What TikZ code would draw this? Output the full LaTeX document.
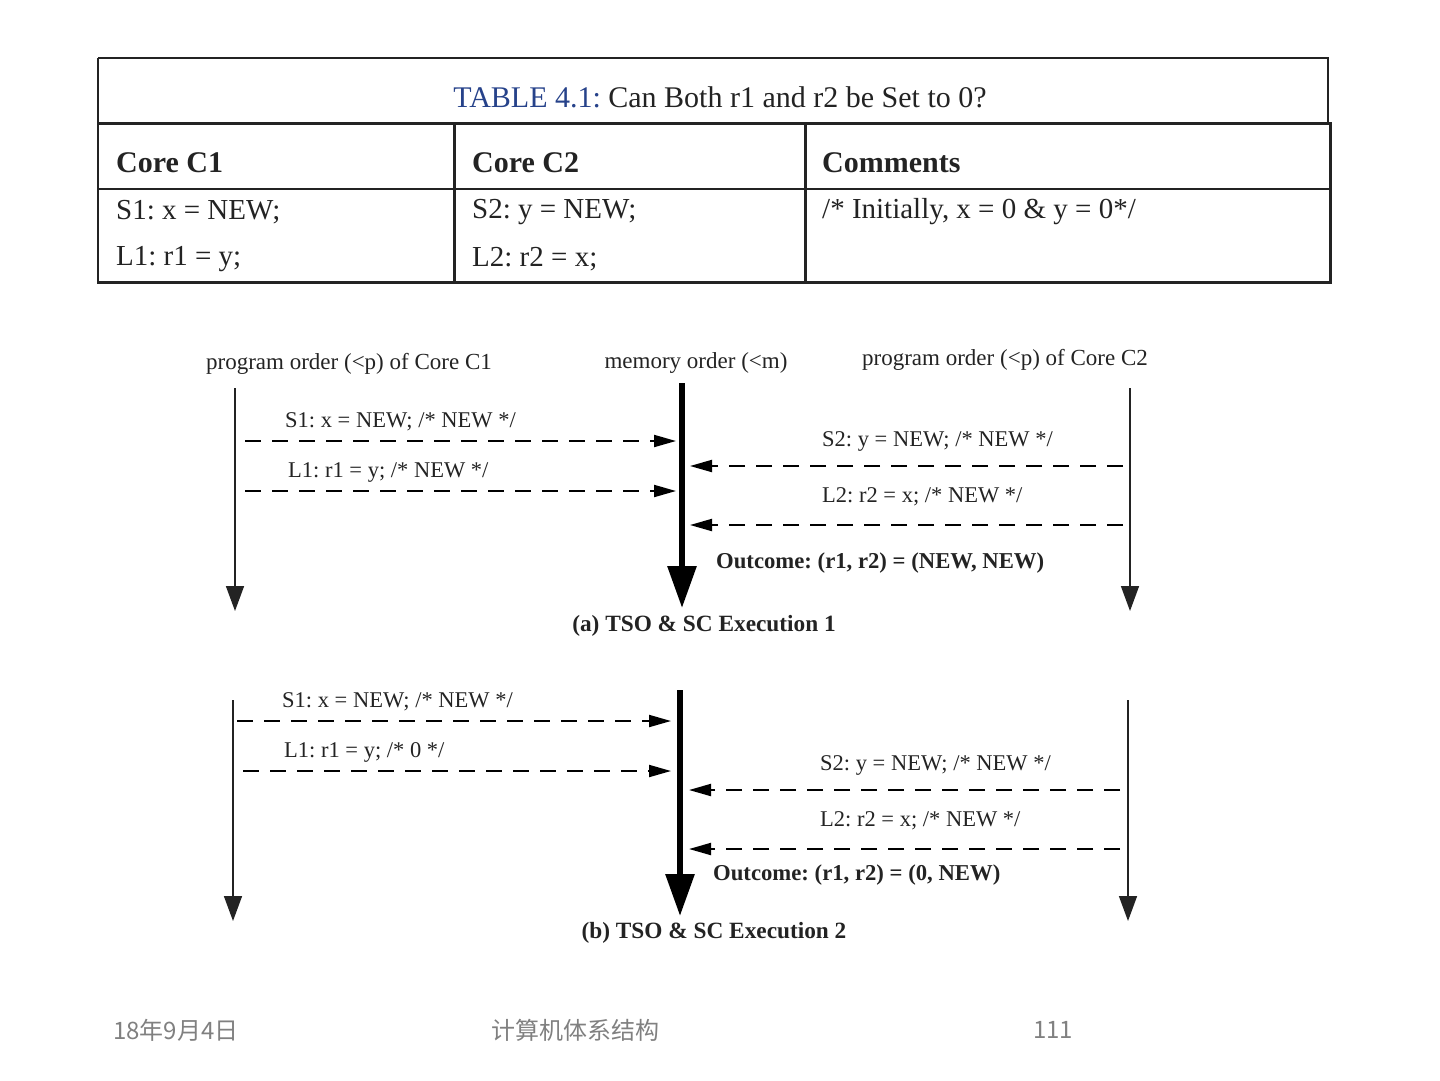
\documentclass[tikz,border=0pt]{standalone}
\usepackage{fontspec}
\setmainfont{Liberation Serif}
\newfontfamily\cjkfont{Noto Sans CJK SC}
\usepackage{xcolor}
\usepackage{tikz}
\usetikzlibrary{arrows.meta}
\definecolor{tabblue}{RGB}{38,66,138}
\definecolor{inkgray}{RGB}{35,35,35}
\definecolor{footgray}{RGB}{128,128,128}
\frenchspacing

\begin{document}
\begin{tikzpicture}[x=1pt,y=-1pt,line join=miter,
  celltext/.style={anchor=west,inner sep=0pt,text=inkgray,font=\fontsize{29}{33}\selectfont},
  headtext/.style={anchor=west,inner sep=0pt,text=inkgray,font=\fontsize{30}{34}\selectfont\bfseries},
  msgtext/.style={anchor=west,inner sep=0pt,text=inkgray,font=\fontsize{22.5}{26}\selectfont},
  outtext/.style={anchor=west,inner sep=0pt,text=inkgray,font=\fontsize{22.7}{26}\selectfont\bfseries},
  captext/.style={inner sep=0pt,text=inkgray,font=\fontsize{23.3}{27}\selectfont\bfseries},
  ordertext/.style={inner sep=0pt,text=inkgray,font=\fontsize{23}{27}\selectfont},
  foottext/.style={inner sep=0pt,text=footgray,font=\cjkfont\fontsize{24}{28}\selectfont},
  coreline/.style={line width=1.6pt,draw=inkgray,-{Triangle[length=25pt,width=18pt]}},
  memline/.style={line width=6pt,draw=black,-{Triangle[length=42pt,width=28pt]}},
  msgline/.style={line width=2pt,draw=black,dash pattern=on 16pt off 11pt,-{Triangle[length=22pt,width=12pt]}}]
  \useasboundingbox (0,0) rectangle (1440,1080);
  % table frame
  \draw[line width=1.5pt,draw=inkgray] (98,58) -- (1328,58) -- (1328,123);
  \draw[line width=2pt,draw=inkgray] (98,58) -- (98,282);
  \draw[line width=3pt,draw=inkgray] (97,123) -- (1330,123) -- (1330,282) -- (97,282);
  \draw[line width=1.5pt,draw=inkgray] (98,189) -- (1330,189);
  \draw[line width=3pt,draw=inkgray] (454,123) -- (454,282);
  \draw[line width=3pt,draw=inkgray] (805,123) -- (805,282);
  \node[inner sep=0pt,font=\fontsize{30}{34}\selectfont] (title) at (720,97)
    {\textcolor{tabblue}{TABLE 4.1:} \textcolor{inkgray}{Can Both r1 and r2 be Set to 0?}};
  \node[headtext] (hc1) at (116,163) {Core C1};
  \node[headtext] (hc2) at (472,163) {Core C2};
  \node[headtext] (hcm) at (822,163) {Comments};
  \node[celltext] (s1cell) at (116,212) {S1: x = NEW;};
  \node[celltext] (l1cell) at (116,259) {L1: r1 = y;};
  \node[celltext] (s2cell) at (472,212) {S2: y = NEW;};
  \node[celltext] (l2cell) at (472,259) {L2: r2 = x;};
  \node[celltext] (init) at (822,212) {/* Initially, x = 0 \& y = 0*/};

  % (a) execution 1
  \node[ordertext] (poa1) at (349,364) {program order (<p) of Core C1};
  \node[ordertext] (moa) at (696,363) {memory order (<m)};
  \node[ordertext] (poa2) at (1005,360) {program order (<p) of Core C2};
  \coordinate (A1top) at (235,388);
  \coordinate (A1bot) at (235,611);
  \coordinate (AMtop) at (682,383);
  \coordinate (AMbot) at (682,608);
  \coordinate (A2top) at (1130,388);
  \coordinate (A2bot) at (1130,611);
  \draw[coreline] (A1top) -- (A1bot);
  \draw[memline] (AMtop) -- (AMbot);
  \draw[coreline] (A2top) -- (A2bot);
  \coordinate (AS1a) at (245,441);
  \coordinate (AS1b) at (676,441);
  \coordinate (AL1a) at (245,491);
  \coordinate (AL1b) at (676,491);
  \coordinate (AS2a) at (1123,466);
  \coordinate (AS2b) at (690,466);
  \coordinate (AL2a) at (1123,525);
  \coordinate (AL2b) at (690,525);
  \draw[msgline] (AS1a) -- (AS1b);
  \draw[msgline] (AL1a) -- (AL1b);
  \draw[msgline] (AS2a) -- (AS2b);
  \draw[msgline] (AL2a) -- (AL2b);
  \node[msgtext] (as1) at (285,422) {S1: x = NEW; /* NEW */};
  \node[msgtext] (al1) at (288,472) {L1: r1 = y; /* NEW */};
  \node[msgtext] (as2) at (822,441) {S2: y = NEW; /* NEW */};
  \node[msgtext] (al2) at (822,497) {L2: r2 = x; /* NEW */};
  \node[outtext] (aout) at (716,563) {Outcome: (r1, r2) = (NEW, NEW)};
  \node[captext] (acap) at (704,626) {(a) TSO \& SC Execution 1};

  % (b) execution 2
  \coordinate (B1top) at (233,700);
  \coordinate (B1bot) at (233,921);
  \coordinate (BMtop) at (680,690);
  \coordinate (BMbot) at (680,916);
  \coordinate (B2top) at (1128,700);
  \coordinate (B2bot) at (1128,921);
  \draw[coreline] (B1top) -- (B1bot);
  \draw[memline] (BMtop) -- (BMbot);
  \draw[coreline] (B2top) -- (B2bot);
  \coordinate (BS1a) at (237,721);
  \coordinate (BS1b) at (671,721);
  \coordinate (BL1a) at (243,771);
  \coordinate (BL1b) at (671,771);
  \coordinate (BS2a) at (1120,790);
  \coordinate (BS2b) at (689,790);
  \coordinate (BL2a) at (1120,849);
  \coordinate (BL2b) at (689,849);
  \draw[msgline] (BS1a) -- (BS1b);
  \draw[msgline] (BL1a) -- (BL1b);
  \draw[msgline] (BS2a) -- (BS2b);
  \draw[msgline] (BL2a) -- (BL2b);
  \node[msgtext] (bs1) at (282,702) {S1: x = NEW; /* NEW */};
  \node[msgtext] (bl1) at (284,752) {L1: r1 = y; /* 0 */};
  \node[msgtext] (bs2) at (820,765) {S2: y = NEW; /* NEW */};
  \node[msgtext] (bl2) at (820,821) {L2: r2 = x; /* NEW */};
  \node[outtext] (bout) at (713,875) {Outcome: (r1, r2) = (0, NEW)};
  \node[captext] (bcap) at (714,933) {(b) TSO \& SC Execution 2};

  % footer
  \node[foottext,anchor=west] (date) at (113,1030) {18年9月4日};
  \node[foottext] (course) at (575,1030) {计算机体系结构};
  \node[foottext] (page) at (1053,1030) {111};
\end{tikzpicture}
\end{document}
